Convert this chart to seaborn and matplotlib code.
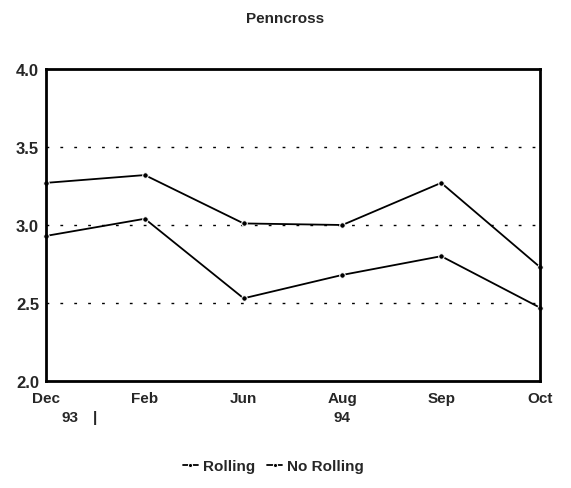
import numpy as np
import pandas as pd
import matplotlib
matplotlib.use("Agg")
import matplotlib.pyplot as plt
import seaborn as sns

# data
months = ["Dec", "Feb", "Jun", "Aug", "Sep", "Oct"]
rolling = [3.27, 3.32, 3.01, 3.00, 3.27, 2.73]
no_rolling = [2.93, 3.04, 2.53, 2.68, 2.80, 2.47]
yticks = [2.0, 2.5, 3.0, 3.5, 4.0]
grid_levels = [2.5, 3.0, 3.5]

df = pd.DataFrame({
    "x": list(range(len(months))) * 2,
    "value": rolling + no_rolling,
    "series": ["Rolling"] * len(months) + ["No Rolling"] * len(months),
})

sns.set_style("white")
plt.rcParams["font.family"] = ["Liberation Sans", "DejaVu Sans"]
plt.rcParams["font.weight"] = "bold"

fig = plt.figure(figsize=(5.71, 4.89), dpi=100)
ax = fig.add_axes([0.0806, 0.2188, 0.8651, 0.6381])

sns.lineplot(data=df, x="x", y="value", hue="series", style="series",
             palette=["black", "black"], dashes=False, markers=["o", "o"],
             markersize=4, linewidth=1.3, ax=ax, legend=True)
for ln in ax.lines:
    ln.set_clip_on(False)

for g in grid_levels:
    ax.axhline(g, color="black", linestyle=(0, (2, 8)), linewidth=1.0, zorder=0)

ax.set_xlim(0, len(months) - 1)
ax.set_ylim(2.0, 4.0)
ax.set_xticks(range(len(months)))
ax.set_xticklabels(months, fontsize=11, fontweight="bold")
ax.set_yticks(yticks)
ax.set_yticklabels([f"{v:.1f}" for v in yticks], fontsize=12, fontweight="bold")
ax.tick_params(axis="x", direction="in", length=4, pad=7)
ax.tick_params(axis="y", direction="out", length=3, pad=2)
ax.set_xlabel("")
ax.set_ylabel("")
for s in ax.spines.values():
    s.set_color("black")
    s.set_linewidth(2)

# year labels under the month ticks
ax.text(0.049, -0.115, "93", transform=ax.transAxes, ha="center", va="center",
        fontsize=11, fontweight="bold")
ax.text(0.099, -0.115, "|", transform=ax.transAxes, ha="center", va="center",
        fontsize=11, fontweight="bold")
ax.text(0.6, -0.115, "94", transform=ax.transAxes, ha="center", va="center",
        fontsize=11, fontweight="bold")

fig.suptitle("Penncross", x=0.5, y=0.975, fontsize=11, fontweight="heavy")

leg = ax.legend(loc="center", bbox_to_anchor=(0.46, -0.272), ncol=2,
                frameon=False, handlelength=1.0, handletextpad=0.3,
                columnspacing=0.8, prop={"size": 11, "weight": "bold"})
for h in leg.legend_handles:
    h.set_markersize(3)

fig.savefig("out.png", dpi=100)
